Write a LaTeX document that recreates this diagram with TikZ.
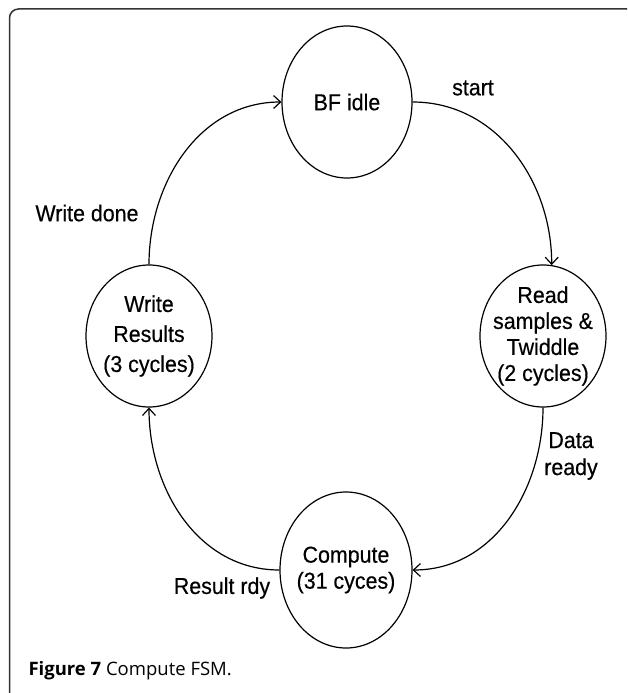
\documentclass[tikz,border=0pt]{standalone}
\usepackage{fontspec}
\setmainfont{Liberation Sans}[FakeStretch=0.93, FakeBold=0.4]
\newfontfamily\capfont{Open Sans}
\usetikzlibrary{shapes.geometric,arrows.meta}

\begin{document}
\begin{tikzpicture}[
  x=1pt, y=1pt,
  >={Straight Barb[length=7pt,width=13pt]},
  state/.style={draw, ellipse, line width=1.2pt, inner sep=-6pt, align=center, font=\fontsize{23}{26}\selectfont},
  lbl/.style={align=center, font=\fontsize{23}{27}\selectfont},
  tr/.style={->, line width=1.2pt}
]
\useasboundingbox (0,0) rectangle (627,-693);

% Frame
\begin{scope}
\clip (0,0) rectangle (627,-693);
\draw[line width=1.5pt, black!80, rounded corners=9pt] (9.5,-9) rectangle (636,-702);
\end{scope}

% States
\node[state, minimum width=130pt, minimum height=152pt] (idle) at (347,-102) {BF idle};
\node[state, minimum width=126pt, minimum height=142pt] (read) at (543,-336) {Read\\samples \&\\Twiddle\\(2 cycles)};
\node[state, minimum width=132pt, minimum height=156pt] (comp) at (346,-570) {Compute\\(31 cyces)};
\node[state, minimum width=126pt, minimum height=142pt] (write) at (149,-336) {Write\\[4pt]Results\\[4pt](3 cycles)};

% Transitions
\draw[tr] (idle.east) to[out=0, in=90] (read.83);
\draw[tr] (read.south) to[out=-90, in=0] (comp.east);
\draw[tr] (comp.west) to[out=180, in=-90] (write.south);
\draw[tr] (write.north) to[out=90, in=180] (idle.west);

% Labels
\node[lbl] (lstart) at (473,-88) {start};
\node[lbl] (ldata) at (571,-456) {Data\\ready};
\node[lbl] (lres) at (222,-588) {Result rdy};
\node[lbl] (lwrite) at (87,-213) {Write done};

% Caption
\node[anchor=west, font=\capfont\fontsize{18.5}{20}\selectfont] (cap) at (25,-671) {\textbf{Figure 7} Compute FSM.};
\end{tikzpicture}
\end{document}
